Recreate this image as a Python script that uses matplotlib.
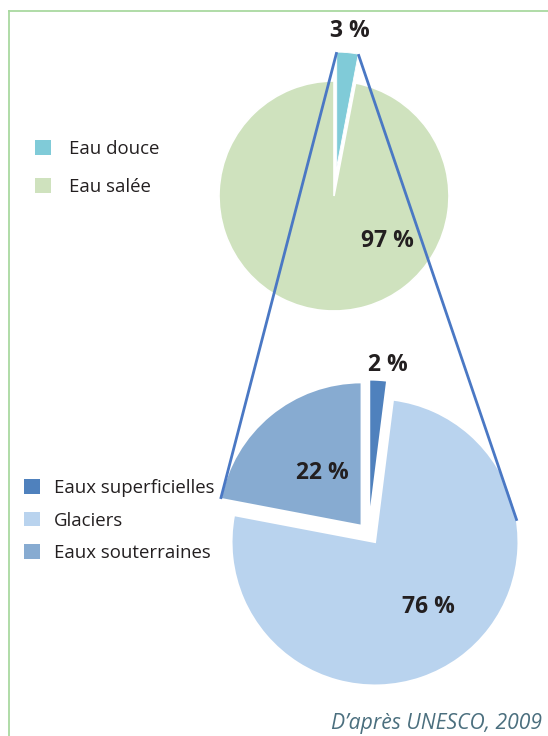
import numpy as np
import matplotlib.pyplot as plt
from matplotlib.patches import Patch

# --- data -------------------------------------------------------------
main_labels = ["Eau douce", "Eau salée"]
main_values = [3, 97]
main_colors = ["#80cbd8", "#cfe2be"]

fresh_labels = ["Eaux superficielles", "Glaciers", "Eaux souterraines"]
fresh_values = [2, 76, 22]
fresh_colors = ["#4f81bd", "#b9d3ee", "#87abd1"]

source_text = "D\u2019après UNESCO, 2009"

W, H = 548, 736
plt.rcParams["font.family"] = ["Open Sans", "DejaVu Sans"]
TXT = "#231f20"
LINE = "#4a78c4"


def py(y):
    # pixel row (from top) -> data y
    return H - y


fig = plt.figure(figsize=(W / 100, H / 100), dpi=100)
ax = fig.add_axes([0, 0, 1, 1])

# top pie : salt vs fresh water
wtop, _ = ax.pie(main_values, colors=main_colors, startangle=90,
                 counterclock=False, radius=115, center=(334, py(196)),
                 explode=[29, 0],
                 wedgeprops=dict(edgecolor="white", linewidth=1.2))
wtop[0].set_zorder(3)
wtop[0].set_linewidth(0.6)

# bottom pie : breakdown of fresh water
wbot, _ = ax.pie(fresh_values, colors=fresh_colors, startangle=90,
                 counterclock=False, radius=143.5, center=(375, py(542)),
                 explode=[19, 0, 21],
                 wedgeprops=dict(edgecolor="white", linewidth=1.5))
# the small slice sits a bit left of its radial offset in the original
cx, cy = wbot[0].center
wbot[0].set_center((cx - 7, cy))


def rim(w, ang):
    cx, cy = w.center
    a = np.deg2rad(ang)
    return cx + w.r * np.cos(a), cy + w.r * np.sin(a)


# connector lines from the fresh-water slice to the second pie
p1 = rim(wtop[0], wtop[0].theta2)
p2 = rim(wtop[0], wtop[0].theta1)
q1 = rim(wbot[2], wbot[2].theta2)
q2 = rim(wbot[1], 8.5)
ax.plot([p1[0], q1[0]], [p1[1], q1[1]], color=LINE, lw=2.0, zorder=5,
        solid_capstyle="butt")
ax.plot([p2[0], q2[0]], [p2[1], q2[1]], color=LINE, lw=2.0, zorder=5,
        solid_capstyle="butt")

# percentage labels
lab_pos = {"3": (350, 31), "97": (387, 241),
           "2": (388, 365), "76": (428, 607), "22": (322, 473)}
for v in main_values + fresh_values:
    x, y = lab_pos[str(v)]
    ax.text(x, py(y), f"{v} %", ha="center", va="center", fontsize=16.5,
            fontweight="bold", color=TXT, zorder=6)

# legends
h1 = [Patch(facecolor=c, edgecolor="none") for c in main_colors]
leg1 = ax.legend(h1, main_labels, loc="upper left",
                 bbox_to_anchor=(35 / W, 1 - 140 / H), frameon=False,
                 fontsize=13.4, handlelength=0.85, handleheight=0.85,
                 handletextpad=1.0, labelspacing=1.05, borderpad=0,
                 borderaxespad=0, labelcolor=TXT)
ax.add_artist(leg1)

h2 = [Patch(facecolor=c, edgecolor="none") for c in fresh_colors]
ax.legend(h2, fresh_labels, loc="upper left",
          bbox_to_anchor=(24 / W, 1 - 479 / H), frameon=False,
          fontsize=13.4, handlelength=0.85, handleheight=0.85,
          handletextpad=0.75, labelspacing=0.78, borderpad=0,
          borderaxespad=0, labelcolor=TXT)

# frame lines (top and left)
ax.plot([9, 9], [py(H), py(11)], color="#a9d9a0", lw=1.3, zorder=1)
ax.plot([9, W], [py(11), py(11)], color="#a9d9a0", lw=1.3, zorder=1)

ax.text(542, py(723), source_text, ha="right", va="center", fontsize=15.2,
        style="italic", color="#4b6f7e")

ax.set_xlim(0, W)
ax.set_ylim(0, H)
ax.set_aspect("equal")
ax.axis("off")

fig.savefig("out.png", dpi=100)
